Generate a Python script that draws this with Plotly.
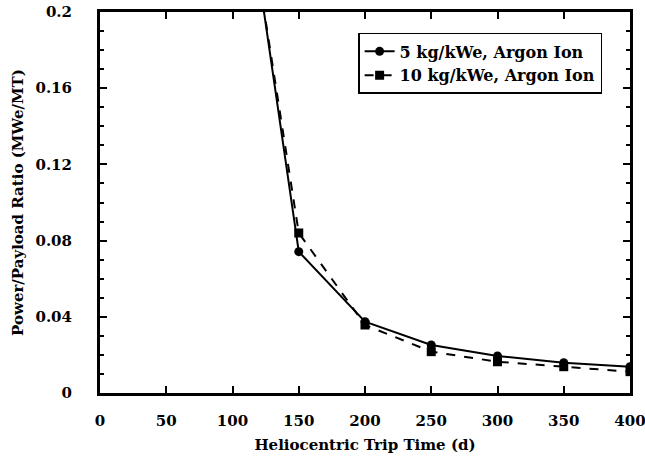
import plotly.graph_objects as go

trip_time = [100, 150, 200, 250, 300, 350, 400]
ratio_5kg = [0.314, 0.0742, 0.0374, 0.0252, 0.0194, 0.0159, 0.0138]
ratio_10kg = [0.307, 0.0840, 0.0357, 0.0217, 0.0164, 0.0138, 0.0112]

x_ticks = [0, 50, 100, 150, 200, 250, 300, 350, 400]
x_tick_text = ["0", "50", "100", "150", "200", "250", "300", "350", "400"]
y_ticks = [0, 0.04, 0.08, 0.12, 0.16, 0.2]
y_tick_text = ["0", "0.04", "0.08", "0.12", "0.16", "0.2"]

font_family = "DejaVu Serif"

fig = go.Figure()
fig.add_trace(go.Scatter(
    x=trip_time, y=ratio_5kg, mode="lines+markers",
    name="5 kg/kWe, Argon Ion",
    line=dict(color="black", width=2),
    marker=dict(symbol="circle", size=9, color="black"),
))
fig.add_trace(go.Scatter(
    x=trip_time, y=ratio_10kg, mode="lines+markers",
    name="10 kg/kWe, Argon Ion",
    line=dict(color="black", width=2, dash="dash"),
    marker=dict(symbol="square", size=9, color="black"),
))

fig.update_layout(
    width=645, height=459,
    margin=dict(l=100, r=15, t=12, b=66, autoexpand=False),
    paper_bgcolor="white", plot_bgcolor="white",
    font=dict(family=font_family, size=15, color="black"),
    showlegend=True,
    legend=dict(
        x=0.487, y=0.945, xanchor="left", yanchor="top",
        bordercolor="black", borderwidth=1.5, bgcolor="white",
        font=dict(family=font_family, size=16, color="black", weight="bold"),
        itemwidth=30, tracegroupgap=0,
    ),
)
fig.update_xaxes(
    range=[0, 400], tickvals=x_ticks, ticktext=["<b>%s</b>" % t for t in x_tick_text],
    showgrid=False, zeroline=False, automargin=False,
    showline=True, linecolor="black", linewidth=3, mirror="ticks",
    ticks="inside", ticklen=7, tickwidth=2, tickcolor="black",
    tickfont=dict(family=font_family, size=15, weight="bold"),
    ticklabelstandoff=12, ticklabeloverflow="allow",
    title=dict(text="<b>Heliocentric Trip Time (d)</b>", standoff=11,
               font=dict(family=font_family, size=15, weight="bold")),
)
fig.update_yaxes(
    range=[0, 0.2], tickvals=y_ticks, ticktext=["<b>%s</b>" % t for t in y_tick_text],
    showgrid=False, zeroline=False, automargin=False,
    showline=True, linecolor="black", linewidth=3, mirror="ticks",
    ticks="inside", ticklen=7, tickwidth=2, tickcolor="black",
    minor=dict(dtick=0.01, ticks="inside", ticklen=4, tickwidth=2, tickcolor="black", showgrid=False),
    tickfont=dict(family=font_family, size=15, weight="bold"),
    ticklabelstandoff=22, ticklabeloverflow="allow",
    title=dict(text="<b>Power/Payload Ratio (MWe/MT)</b>", standoff=9,
               font=dict(family=font_family, size=15, weight="bold")),
)

fig.write_html("out.html", config={"displayModeBar": False},
               post_script="document.body.style.margin='0';")
